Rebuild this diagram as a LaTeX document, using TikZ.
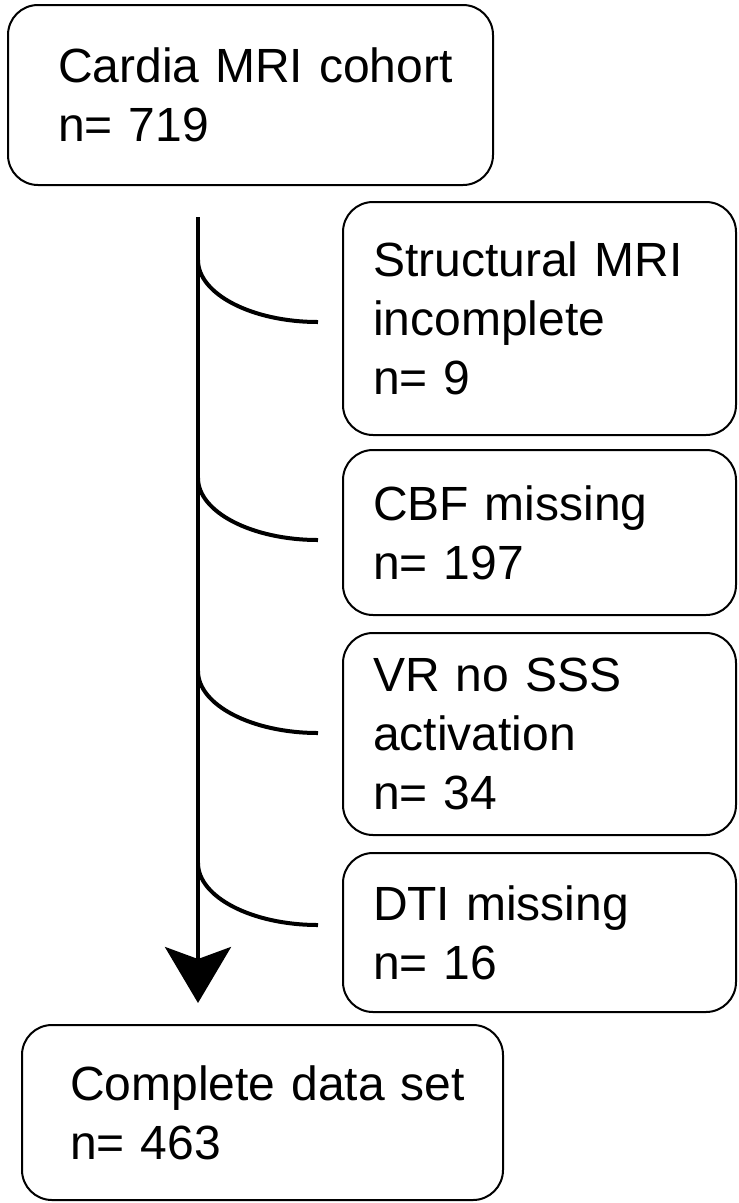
\documentclass[tikz,border=0pt]{standalone}
\usepackage{fontspec}
\setmainfont{Liberation Sans}
\usetikzlibrary{arrows.meta}

\tikzset{
	box/.style={draw, line width=2pt, rounded corners=30pt, align=left,
		inner xsep=0pt, inner ysep=4pt, font=\fontsize{48}{59}\selectfont},
	sidebox/.style={box, minimum width=393pt, text width=333pt},
}

\begin{document}
\begin{tikzpicture}[x=1pt, y=-1pt, line width=4pt]
	\useasboundingbox (0,0) rectangle (739,1203);

		% Начальная и итоговая выборка
		\node[box, minimum width=485pt, minimum height=180pt, text width=385pt] (cohort) at (250.5,95) {\mbox{Cardia MRI cohort}\\n= 719};
		\node[box, minimum width=481pt, minimum height=175pt, text width=385pt] (complete) at (262.5,1112.5) {\mbox{Complete data set}\\n= 463};

		% Исключения
		\node[sidebox, minimum height=233pt] (mri) at (539.5,318.5) {Structural MRI\\incomplete\\n= 9};
		\node[sidebox, minimum height=165pt] (cbf) at (539.5,532.5) {CBF missing\\n= 197};
		\node[sidebox, minimum height=202pt] (vr) at (539.5,734) {VR no SSS\\activation\\n= 34};
		\node[sidebox, minimum height=159pt] (dti) at (539.5,932.5) {DTI missing\\n= 16};

		% Главная стрелка
		\coordinate (trunk) at (198,217);
		\draw[-{Stealth[length=56pt, width=66pt, inset=12pt]}, shorten >=21pt] (trunk) -- (trunk |- complete.north);

		% Ответвления к исключениям
		\foreach \b/\e in {mri/322, cbf/540, vr/733, dti/925} {
			\coordinate (\b-split) at (198,\e-62);
			\coordinate (\b-end) at (318,\e);
			\draw (\b-split) .. controls +(0,34) and +(-66,0) .. (\b-end);
		}
\end{tikzpicture}
\end{document}
